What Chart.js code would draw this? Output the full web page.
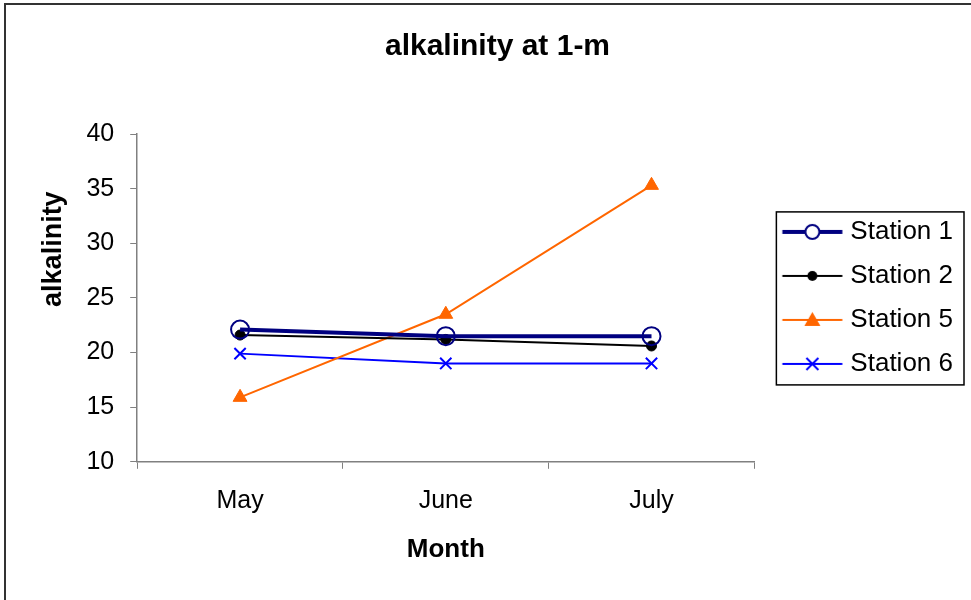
<!DOCTYPE html>
<html>
<head>
<meta charset="utf-8">
<title>alkalinity at 1-m</title>
<script src="https://cdn.jsdelivr.net/npm/chart.js@4"></script>
<style>
  html, body { margin: 0; padding: 0; background: #fff; }
  #wrap { width: 971px; height: 600px; position: relative; }
</style>
</head>
<body>
<div id="wrap"><canvas id="myChart" width="971" height="600"></canvas></div>
<script>
const months = ['May', 'June', 'July'];
const station1 = [22.1, 21.5, 21.5];
const station2 = [21.6, 21.2, 20.6];
const station5 = [15.9, 23.5, 35.3];
const station6 = [19.9, 19.0, 19.0];
const yTicks = [10, 15, 20, 25, 30, 35, 40];

const FONT = "'Liberation Sans', Arial, sans-serif";

// little line+marker samples for the legend, Excel style
function legendSample(color, lineWidth, marker) {
    const c = document.createElement('canvas');
    c.width = 80;
    c.height = 26;
    const g = c.getContext('2d');
    g.strokeStyle = color;
    g.lineWidth = lineWidth;
    g.beginPath();
    g.moveTo(17.5, 13);
    g.lineTo(77.5, 13);
    g.stroke();
    const cx = 47.5, cy = 13;
    g.lineWidth = 2;
    if (marker === 'openCircle') {
        g.fillStyle = '#fff';
        g.beginPath();
        g.arc(cx, cy, 7, 0, Math.PI * 2);
        g.fill();
        g.stroke();
    } else if (marker === 'dot') {
        g.fillStyle = color;
        g.beginPath();
        g.arc(cx, cy, 5, 0, Math.PI * 2);
        g.fill();
    } else if (marker === 'triangle') {
        g.fillStyle = color;
        g.beginPath();
        g.moveTo(cx, cy - 8);
        g.lineTo(cx + 8, cy + 6);
        g.lineTo(cx - 8, cy + 6);
        g.closePath();
        g.fill();
    } else if (marker === 'x') {
        g.beginPath();
        g.moveTo(cx - 6, cy - 6);
        g.lineTo(cx + 6, cy + 6);
        g.moveTo(cx + 6, cy - 6);
        g.lineTo(cx - 6, cy + 6);
        g.stroke();
    }
    return c;
}

const samples = [
    legendSample('#000080', 4, 'openCircle'),
    legendSample('#000000', 2, 'dot'),
    legendSample('#FF6600', 2, 'triangle'),
    legendSample('#0000FF', 2, 'x')
];

// white background, outer frame and the box round the legend
const framePlugin = {
    id: 'frame',
    beforeDraw(chart) {
        const ctx = chart.ctx;
        ctx.save();
        ctx.fillStyle = '#fff';
        ctx.fillRect(0, 0, chart.width, chart.height);
        ctx.strokeStyle = '#333';
        ctx.lineWidth = 2;
        ctx.strokeRect(5, 4, chart.width + 20, chart.height + 20);
        ctx.restore();
    },
    afterDraw(chart) {
        const hb = chart.legend.legendHitBoxes;
        if (!hb || !hb.length) return;
        const ctx = chart.ctx;
        const first = hb[0], last = hb[hb.length - 1];
        const left = first.left + 4;
        const right = 964;
        const top = first.top - 7;
        const bottom = last.top + 34;
        ctx.save();
        ctx.strokeStyle = '#000';
        ctx.lineWidth = 1.5;
        ctx.strokeRect(left, top, right - left, bottom - top);
        ctx.restore();
    }
};

const ctx = document.getElementById('myChart').getContext('2d');
window.myChart = new Chart(ctx, {
    type: 'line',
    data: {
        labels: months,
        datasets: [
            {
                label: 'Station 1',
                data: station1,
                borderColor: '#000080',
                borderWidth: 4,
                pointStyle: 'circle',
                pointRadius: 9,
                pointBorderWidth: 2,
                pointBorderColor: '#000080',
                pointBackgroundColor: 'rgba(0,0,0,0)',
                fill: false
            },
            {
                label: 'Station 2',
                data: station2,
                borderColor: '#000000',
                borderWidth: 2,
                pointStyle: 'circle',
                pointRadius: 5,
                pointBorderWidth: 1,
                pointBorderColor: '#000000',
                pointBackgroundColor: '#000000',
                fill: false
            },
            {
                label: 'Station 5',
                data: station5,
                borderColor: '#FF6600',
                borderWidth: 2,
                pointStyle: 'triangle',
                pointRadius: 8,
                pointBorderWidth: 1,
                pointBorderColor: '#FF6600',
                pointBackgroundColor: '#FF6600',
                fill: false
            },
            {
                label: 'Station 6',
                data: station6,
                borderColor: '#0000FF',
                borderWidth: 2,
                pointStyle: 'crossRot',
                pointRadius: 8,
                pointBorderWidth: 2,
                pointBorderColor: '#0000FF',
                pointBackgroundColor: '#0000FF',
                fill: false
            }
        ]
    },
    options: {
        responsive: false,
        animation: false,
        layout: {
            padding: { left: 32, right: 8, top: 8, bottom: 30 }
        },
        elements: {
            line: { tension: 0 }
        },
        plugins: {
            title: {
                display: true,
                text: 'alkalinity at 1-m',
                color: '#000',
                font: { family: FONT, size: 30, weight: 'bold' },
                padding: { top: 21, bottom: 69 }
            },
            legend: {
                position: 'right',
                fullSize: false,
                labels: {
                    usePointStyle: true,
                    pointStyleWidth: 65,
                    padding: 18,
                    color: '#000',
                    font: { family: FONT, size: 26 },
                    generateLabels(chart) {
                        const items = Chart.defaults.plugins.legend.labels.generateLabels(chart);
                        items.forEach((it, i) => { it.pointStyle = samples[i]; });
                        return items;
                    }
                }
            },
            tooltip: { enabled: false }
        },
        scales: {
            x: {
                type: 'category',
                offset: true,
                grid: {
                    offset: true,
                    drawOnChartArea: false,
                    drawTicks: true,
                    tickLength: 7,
                    color: '#808080'
                },
                border: { display: true, color: '#808080', width: 1.5 },
                ticks: {
                    color: '#000',
                    padding: 17,
                    font: { family: FONT, size: 25 }
                },
                title: {
                    display: true,
                    text: 'Month',
                    color: '#000',
                    font: { family: FONT, size: 26, weight: 'bold' },
                    padding: { top: 1, bottom: 5 }
                }
            },
            y: {
                min: yTicks[0],
                max: yTicks[yTicks.length - 1],
                afterBuildTicks(scale) {
                    scale.ticks = yTicks.map(v => ({ value: v }));
                },
                grid: {
                    drawOnChartArea: false,
                    drawTicks: true,
                    tickLength: 7,
                    color: '#808080'
                },
                border: { display: true, color: '#808080', width: 1.5 },
                ticks: {
                    color: '#000',
                    padding: 16,
                    font: { family: FONT, size: 25 }
                },
                title: {
                    display: true,
                    text: '             alkalinity',
                    color: '#000',
                    font: { family: FONT, size: 27, weight: 'bold' },
                    padding: { top: 5, bottom: 1 }
                }
            }
        }
    },
    plugins: [framePlugin]
});
</script>
</body>
</html>
